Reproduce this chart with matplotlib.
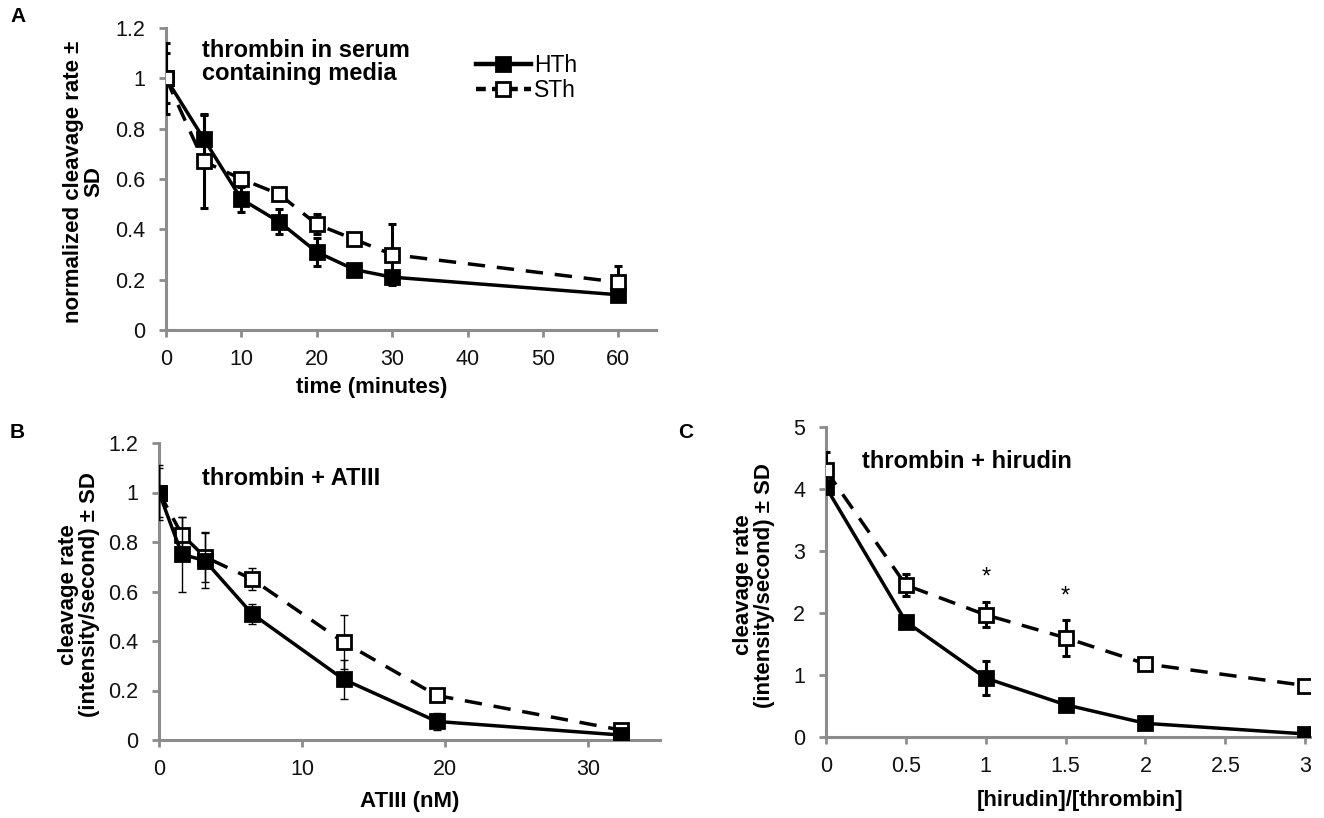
import matplotlib
matplotlib.use("Agg")
import matplotlib.pyplot as plt
from matplotlib.ticker import FuncFormatter, MultipleLocator
from matplotlib.lines import Line2D

# ---------------- data ----------------
# Panel A: thrombin in serum containing media
a_time = [0, 5, 10, 15, 20, 25, 30, 60]
a_hth = [1.00, 0.76, 0.52, 0.43, 0.31, 0.24, 0.21, 0.14]
a_hth_sd = [0.10, 0.10, 0.05, 0.05, 0.055, 0.01, 0.02, 0.02]
a_sth = [1.00, 0.67, 0.60, 0.54, 0.42, 0.36, 0.30, 0.19]
a_sth_sd = [0.14, 0.185, 0.02, 0.02, 0.04, 0.01, 0.12, 0.065]

# Panel B: thrombin + ATIII
b_atiii = [0, 1.6, 3.2, 6.5, 12.9, 19.4, 32.3]
b_hth = [1.00, 0.75, 0.725, 0.51, 0.245, 0.075, 0.02]
b_hth_sd = [0.11, 0.15, 0.11, 0.04, 0.08, 0.035, 0.01]
b_sth = [1.00, 0.83, 0.74, 0.65, 0.395, 0.18, 0.04]
b_sth_sd = [0.10, 0.07, 0.10, 0.045, 0.11, 0.01, 0.01]

# Panel C: thrombin + hirudin
c_ratio = [0, 0.5, 1, 1.5, 2, 3]
c_hth = [4.03, 1.86, 0.95, 0.52, 0.22, 0.05]
c_hth_sd = [0.10, 0.08, 0.28, 0.10, 0.05, 0.03]
c_sth = [4.30, 2.45, 1.97, 1.60, 1.18, 0.83]
c_sth_sd = [0.29, 0.18, 0.20, 0.29, 0.05, 0.05]
c_star_x = [1, 1.5]
c_star_y = [2.57, 2.27]

series_names = ["HTh", "STh"]

# ---------------- style ----------------
GRAY = "#8c8c8c"
TICKFONT = ["Liberation Sans Narrow", "Liberation Sans", "DejaVu Sans"]
BOLDFONT = ["Liberation Sans", "DejaVu Sans"]
DASH = (0, (5.0, 3.4))
LW = 2.5
MS = 10
MEW = 2.0

fig = plt.figure(figsize=(13.24, 8.18), dpi=100)
W, H = 1324.0, 818.0


def add_axes(l, r, t, b):
    return fig.add_axes([l / W, 1 - b / H, (r - l) / W, (b - t) / H])


def fmt(v, pos):
    return "%g" % round(v, 6)


def style_axes(ax):
    for s in ("top", "right"):
        ax.spines[s].set_visible(False)
    for s in ("left", "bottom"):
        ax.spines[s].set_color(GRAY)
        ax.spines[s].set_linewidth(2.2)
    ax.tick_params(axis="both", direction="out", length=5, width=2.0, color=GRAY,
                   labelsize=15.5, labelcolor="#111111")
    ax.tick_params(axis="x", pad=9)
    ax.tick_params(axis="y", pad=10)
    for lab in ax.get_xticklabels() + ax.get_yticklabels():
        lab.set_family(TICKFONT)
    ax.xaxis.set_major_formatter(FuncFormatter(fmt))
    ax.yaxis.set_major_formatter(FuncFormatter(fmt))


def draw_series(ax, x, y, sd, filled, elw, cap, z):
    ls = "-" if filled else DASH
    fc = "black" if filled else "white"
    ax.errorbar(x, y, yerr=sd, fmt="none", ecolor="black", elinewidth=elw,
                capsize=cap, capthick=elw, zorder=z)
    ax.plot(x, y, linestyle=ls, color="black", linewidth=LW, marker="s",
            markersize=MS, markerfacecolor=fc, markeredgecolor="black",
            markeredgewidth=MEW, zorder=z + 0.5, dash_capstyle="butt")


label_kw = dict(fontsize=16, fontweight="bold", family=BOLDFONT)

# ---------------- Panel A ----------------
axA = add_axes(166, 656, 28, 330)
draw_series(axA, a_time, a_hth, a_hth_sd, True, 2.2, 3, 3)
draw_series(axA, a_time, a_sth, a_sth_sd, False, 2.2, 3, 4)
axA.set_xlim(0, 65)
axA.set_ylim(0, 1.2)
axA.xaxis.set_ticks([0, 10, 20, 30, 40, 50, 60])
axA.yaxis.set_major_locator(MultipleLocator(0.2))
style_axes(axA)
axA.set_xlabel("time (minutes)", **label_kw)
axA.xaxis.set_label_coords(0.42, -0.155)
axA.set_ylabel("normalized cleavage rate \u00b1\nSD", linespacing=1.0, **label_kw)
axA.yaxis.set_label_coords(-0.125, 0.49)
axA.text(0.074, 0.965, "thrombin in serum\ncontaining media", transform=axA.transAxes,
         ha="left", va="top", linespacing=1.05, fontsize=17, fontweight="bold",
         family=BOLDFONT)
handles = [
    Line2D([], [], color="black", linewidth=3.2, marker="s", markersize=MS,
           markerfacecolor="black", markeredgecolor="black", markeredgewidth=MEW),
    Line2D([], [], color="black", linewidth=3.2, linestyle=(0, (2.2, 1.4)), marker="s",
           markersize=MS, markerfacecolor="white", markeredgecolor="black",
           markeredgewidth=MEW),
]
axA.legend(handles, series_names, loc="upper left", bbox_to_anchor=(0.632, 0.915),
           frameon=False, borderpad=0, borderaxespad=0, handlelength=2.4,
           handletextpad=0.15, labelspacing=0.1,
           prop={"family": TICKFONT, "size": 16.5})

# ---------------- Panel B ----------------
axB = add_axes(159, 660, 443, 740)
draw_series(axB, b_atiii, b_sth, b_sth_sd, False, 1.0, 3, 3)
draw_series(axB, b_atiii, b_hth, b_hth_sd, True, 1.0, 3, 4)
axB.set_xlim(0, 35)
axB.set_ylim(0, 1.2)
axB.xaxis.set_ticks([0, 10, 20, 30])
axB.yaxis.set_major_locator(MultipleLocator(0.2))
style_axes(axB)
axB.set_xlabel("ATIII (nM)", **label_kw)
axB.xaxis.set_label_coords(0.50, -0.172)
axB.set_ylabel("cleavage rate\n(intensity/second) \u00b1 SD", linespacing=1.0, **label_kw)
axB.yaxis.set_label_coords(-0.118, 0.49)
axB.text(0.086, 0.92, "thrombin + ATIII", transform=axB.transAxes, ha="left", va="top",
         fontsize=17, fontweight="bold", family=BOLDFONT)

# ---------------- Panel C ----------------
axC = add_axes(826, 1310, 427, 737)
draw_series(axC, c_ratio, c_hth, c_hth_sd, True, 2.2, 3, 3)
draw_series(axC, c_ratio, c_sth, c_sth_sd, False, 2.2, 3, 4)
for sx, sy in zip(c_star_x, c_star_y):
    axC.text(sx, sy, "*", ha="center", va="center", fontsize=17, family=TICKFONT)
axC.set_xlim(0, 3.03)
axC.set_ylim(0, 5)
axC.xaxis.set_ticks([0, 0.5, 1, 1.5, 2, 2.5, 3])
axC.yaxis.set_major_locator(MultipleLocator(1))
style_axes(axC)
axC.set_xlabel("[hirudin]/[thrombin]", **label_kw)
axC.xaxis.set_label_coords(0.525, -0.172)
axC.set_ylabel("cleavage rate\n(intensity/second) \u00b1 SD", linespacing=1.0, **label_kw)
axC.yaxis.set_label_coords(-0.106, 0.49)
axC.text(0.075, 0.925, "thrombin + hirudin", transform=axC.transAxes, ha="left", va="top",
         fontsize=17, fontweight="bold", family=BOLDFONT)

# panel letters
for letter, px, py in (("A", 10, 7), ("B", 10, 423), ("C", 678, 423)):
    fig.text(px / W, 1 - py / H, letter, ha="left", va="top", fontsize=15,
             fontweight="bold", family=BOLDFONT)

fig.savefig("out.png", dpi=100, facecolor="white")
